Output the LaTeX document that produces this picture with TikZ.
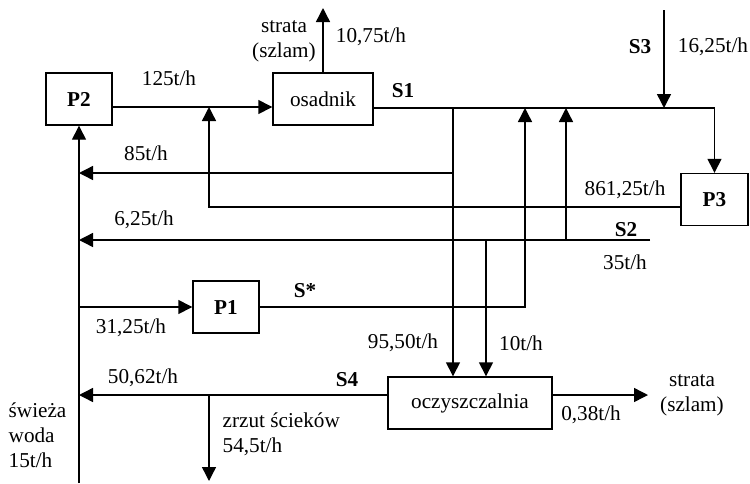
\documentclass[tikz,border=0pt]{standalone}
\usepackage{fontspec}
\setmainfont{Liberation Serif}
\usetikzlibrary{arrows.meta}

\begin{document}
\begin{tikzpicture}[x=0.5pt, y=-0.5pt, line width=0.7pt,
    every node/.style={align=center, inner sep=0pt, font=\fontsize{10.6}{12.5}\selectfont},
    box/.style={draw, line width=0.7pt, minimum height=26pt},
    flow/.style={-{Triangle[length=7pt,width=7pt]}}]
    \useasboundingbox (0,0) rectangle (750,483);

    % apparatus
    \node[box, minimum width=33pt, font=\fontsize{10.6}{12.5}\selectfont\bfseries] (P2) at (79,99) {P2};
    \node[box, minimum width=50pt] (osadnik) at (323,99) {osadnik};
    \node[box, minimum width=33.5pt, font=\fontsize{10.6}{12.5}\selectfont\bfseries] (P3) at (714.5,199.5) {P3};
    \node[box, minimum width=33pt, font=\fontsize{10.6}{12.5}\selectfont\bfseries] (P1) at (226,307) {P1};
    \node[box, minimum width=82pt] (ocz) at (470,403) {oczyszczalnia};

    % junction points
    \coordinate (strTop) at (323,8);
    \coordinate (s3Top) at (664,10);
    \coordinate (s3In) at (664,108);
    \coordinate (j125) at (209,107);
    \coordinate (jA) at (453,108);
    \coordinate (jB) at (453,173);
    \coordinate (jC) at (525,108);
    \coordinate (jD) at (566,108);
    \coordinate (s2In) at (650,240);
    \coordinate (s2E) at (566,240);
    \coordinate (s2F) at (486,240);
    \coordinate (fresh) at (79,483);
    \coordinate (jP1) at (79,307);
    \coordinate (jS4) at (209,395);
    \coordinate (zrzut) at (209,481);
    \coordinate (sludge) at (648,395);

    % upper loop
    \draw[flow] ([yshift=-4pt]P2.east) -- ([yshift=-4pt]osadnik.west);
    \draw[flow] (osadnik.north) -- (strTop);
    \draw[flow] ([yshift=-4.5pt]osadnik.east) -| (P3.north);
    \draw[flow] (s3Top) -- (s3In);
    \draw[flow] (jA) -- (jA |- ocz.north);
    \draw[flow] (jB) -- (jB -| P2);
    \draw[flow] ([yshift=-3.75pt]P3.west) -| (j125);
    \draw[flow] (s2In) -- (s2In -| P2);
    \draw[flow] (s2F) -- (s2F |- ocz.north);
    \draw[flow] (s2E) -- (jD);

    % fresh water and P1
    \draw[flow] (fresh) -- (P2.south);
    \draw[flow] (jP1) -- (P1.west);
    \draw[flow] (P1.east) -| (jC);

    % treatment plant
    \draw[flow] ([yshift=4pt]ocz.west) -- (jS4 -| P2);
    \draw[flow] (jS4) -- (zrzut);
    \draw[flow] ([yshift=4pt]ocz.east) -- (sludge);

    % labels
    \node (lStrata1) at (284,41) {strata\\(szlam)};
    \node (l1075) at (371,37) {10,75t/h};
    \node (l125) at (169,78) {125t/h};
    \node[font=\fontsize{10.6}{12.5}\selectfont\bfseries] (lS1) at (403,91) {S1};
    \node[font=\fontsize{10.6}{12.5}\selectfont\bfseries] (lS3) at (640,47) {S3};
    \node (l1625) at (713,47) {16,25t/h};
    \node (l85) at (146,153) {85t/h};
    \node (l625) at (144,220) {6,25t/h};
    \node (l86125) at (625,190) {861,25t/h};
    \node[font=\fontsize{10.6}{12.5}\selectfont\bfseries] (lS2) at (626,230) {S2};
    \node (l35) at (625,262) {35t/h};
    \node[font=\fontsize{10.6}{12.5}\selectfont\bfseries] (lSs) at (305,291) {S*};
    \node (l3125) at (131,328) {31,25t/h};
    \node (l9550) at (403,343) {95,50t/h};
    \node (l10) at (521,343) {10t/h};
    \node[font=\fontsize{10.6}{12.5}\selectfont\bfseries] (lS4) at (347,380) {S4};
    \node (l5062) at (143,378) {50,62t/h};
    \node[align=left, anchor=west] (lFresh) at (8,435) {świeża\\woda\\15t/h};
    \node[align=left, anchor=west] (lZrzut) at (222,434) {zrzut ścieków\\54,5t/h};
    \node (l038) at (591,415) {0,38t/h};
    \node (lStrata2) at (692,395) {strata\\(szlam)};
\end{tikzpicture}
\end{document}
